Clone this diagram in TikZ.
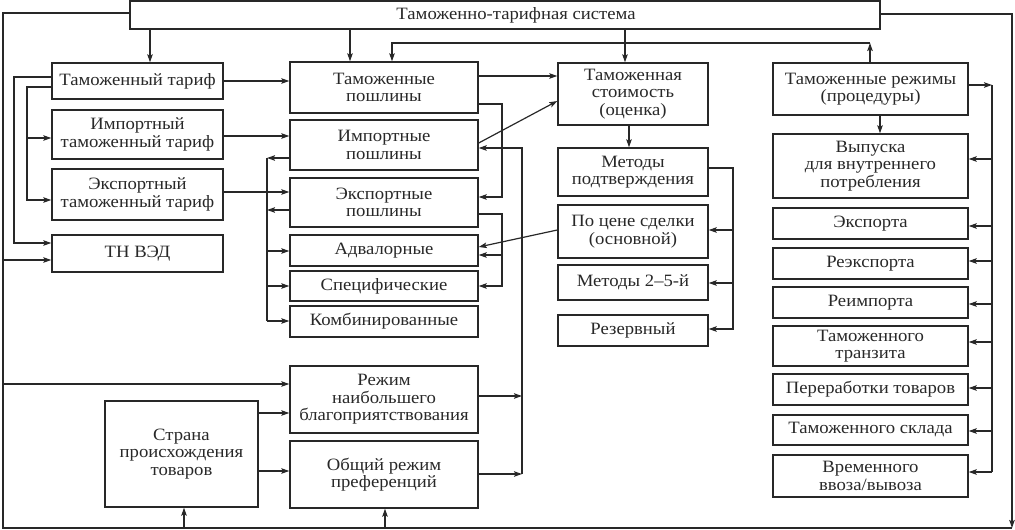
\documentclass[tikz,border=0pt]{standalone}
\usepackage{fontspec}
\setmainfont[FakeStretch=1.08]{Liberation Serif}
\usetikzlibrary{arrows.meta,calc}
\definecolor{ink}{RGB}{40,40,40}
\begin{document}
\begin{tikzpicture}[x=1pt,y=-1pt,
  box/.style={draw=ink,line width=1.4pt,align=center,inner sep=0pt,text=ink,
    font=\fontsize{17.3}{17.5}\selectfont},
  arr/.style={draw=ink,line width=1.2pt,-{Stealth[length=8pt,width=5.5pt,inset=1.5pt]}},
  ln/.style={draw=ink,line width=1.2pt}]
\useasboundingbox (0,0) rectangle (1015,530);
% nodes
\node[box,minimum width=750pt,minimum height=28pt] (top) at (505,15) {\hspace*{22pt}Таможенно-тарифная система};
\node[box,minimum width=171pt,minimum height=36pt] (tariff) at (137.5,81) {Таможенный тариф};
\node[box,minimum width=171pt,minimum height=49pt] (imptar) at (137.5,134.5) {Импортный\\таможенный тариф};
\node[box,minimum width=171pt,minimum height=51pt] (exptar) at (137.5,194.5) {Экспортный\\таможенный тариф};
\node[box,minimum width=171pt,minimum height=37pt] (tnved) at (137.5,253.5) {ТН ВЭД};
\node[box,minimum width=188pt,minimum height=51pt] (duties) at (384,87.5) {Таможенные\\пошлины};
\node[box,minimum width=188pt,minimum height=50pt] (impd) at (384,145) {Импортные\\пошлины};
\node[box,minimum width=188pt,minimum height=49pt] (expd) at (384,202.5) {Экспортные\\пошлины};
\node[box,minimum width=188pt,minimum height=31pt] (adval) at (384,250.5) {Адвалорные};
\node[box,minimum width=188pt,minimum height=30pt] (spec) at (384,286) {Специфические};
\node[box,minimum width=188pt,minimum height=31pt] (comb) at (384,321.5) {Комбинированные};
\node[box,minimum width=188pt,minimum height=67pt] (mfn) at (384,399.5) {Режим\\наибольшего\\благоприятствования};
\node[box,minimum width=188pt,minimum height=67pt] (gsp) at (384,474.5) {Общий режим\\преференций};
\node[box,minimum width=153pt,minimum height=106pt] (country) at (181.5,454) {Страна\\происхождения\\товаров};
\node[box,minimum width=150pt,minimum height=62pt] (value) at (633,94) {Таможенная\\стоимость\\(оценка)};
\node[box,minimum width=150pt,minimum height=48pt] (methods) at (633,172) {Методы\\подтверждения};
\node[box,minimum width=150pt,minimum height=53pt] (price) at (633,231.5) {По цене сделки\\(основной)};
\node[box,minimum width=150pt,minimum height=35pt] (m25) at (633,282.5) {Методы 2–5-й};
\node[box,minimum width=150pt,minimum height=31pt] (reserve) at (633,330.5) {Резервный};
\node[box,minimum width=195pt,minimum height=52pt] (regimes) at (870.5,89) {Таможенные режимы\\(процедуры)};
\node[box,minimum width=195pt,minimum height=64pt] (release) at (870.5,166) {Выпуска\\для внутреннего\\потребления};
\node[box,minimum width=195pt,minimum height=31pt] (export) at (870.5,223.5) {Экспорта};
\node[box,minimum width=195pt,minimum height=31pt] (reexport) at (870.5,263.5) {Реэкспорта};
\node[box,minimum width=195pt,minimum height=31pt] (reimport) at (870.5,302.5) {Реимпорта};
\node[box,minimum width=195pt,minimum height=40pt] (transit) at (870.5,346) {Таможенного\\транзита};
\node[box,minimum width=195pt,minimum height=31pt] (processing) at (870.5,389.5) {Переработки товаров};
\node[box,minimum width=195pt,minimum height=30pt] (warehouse) at (870.5,430) {Таможенного склада};
\node[box,minimum width=195pt,minimum height=42pt] (temp) at (870.5,476) {Временного\\ввоза/вывоза};
% frame
\coordinate (BL) at (3,528);
\coordinate (BR) at (1012,528);
\draw[ln] (top.west |- 0,13) -| (BL) -- (BR);
\draw[arr] (top.east |- 0,14) -| (BR);
% from top
\draw[arr] (top.south -| 150,0) -- (tariff.north -| 150,0);
\draw[arr] (top.south -| 350,0) -- (duties.north -| 350,0);
\draw[arr] (top.south -| 625,0) -- (value.north -| 625,0);
\draw[arr] (regimes.north -| 870,0) -- (870,43);
\draw[arr] (870,43) -- (392,43) -- (duties.north -| 392,0);
% left column
\draw[arr] (tariff.west |- 0,77) -- (14,77) -- (14,243) -- (tnved.west |- 0,243);
\draw[arr] (tariff.west |- 0,87) -- (27,87) -- (27,200) -- (exptar.west |- 0,200);
\draw[arr] (27,138) -- (imptar.west |- 0,138);
\draw[arr] (BL |- 0,260) -- (tnved.west |- 0,260);
\draw[arr] (BL |- 0,384) -- (mfn.west |- 0,384);
% tariffs to duties
\draw[arr] (tariff.east) -- (duties.west |- tariff.east);
\draw[arr] (imptar.east |- 0,136) -- (impd.west |- 0,136);
\draw[arr] (exptar.east |- 0,192) -- (expd.west |- 0,192);
% duty kinds
\draw[arr] (impd.west |- 0,158) -- (267,158);
\draw[arr] (expd.west |- 0,210) -- (267,210);
\draw[ln] (267,158) -- (267,321);
\draw[arr] (267,251) -- (adval.west |- 0,251);
\draw[arr] (267,286) -- (spec.west |- 0,286);
\draw[arr] (267,321) -- (comb.west |- 0,321);
% duties right side
\draw[arr] (duties.east |- 0,76) -- (value.west |- 0,76);
\draw[arr] (duties.east |- 0,104) -- (502,104) -- (502,197) -- (expd.east |- 0,197);
\draw[arr] (impd.east |- 0,143) -- (value.west |- 0,101);
\draw[arr] (mfn.east |- 0,396) -- (522,396);
\draw[arr] (gsp.east |- 0,474) -- (522,474);
\draw[arr] (522,474) -- (522,148) -- (impd.east |- 0,148);
\draw[arr] (expd.east |- 0,214) -- (502,214) -- (502,286) -- (spec.east |- 0,286);
\draw[arr] (502,255) -- (adval.east |- 0,255);
\draw[arr] (price.west |- 0,230) -- (adval.east |- 0,247);
% customs value
\draw[arr] (value.south -| 629,0) -- (methods.north -| 629,0);
\draw[arr] (methods.east |- 0,168) -- (733,168) -- (733,329) -- (reserve.east |- 0,329);
\draw[arr] (733,230) -- (price.east |- 0,230);
\draw[arr] (733,283) -- (m25.east |- 0,283);
% regimes
\draw[arr] (regimes.east |- 0,85) -- (992,85);
\draw[ln] (992,85) -- (992,472);
\draw[arr] (regimes.south -| 880,0) -- (release.north -| 880,0);
\draw[arr] (992,159) -- (release.east |- 0,159);
\draw[arr] (992,226) -- (export.east |- 0,226);
\draw[arr] (992,261) -- (reexport.east |- 0,261);
\draw[arr] (992,304) -- (reimport.east |- 0,304);
\draw[arr] (992,342) -- (transit.east |- 0,342);
\draw[arr] (992,388) -- (processing.east |- 0,388);
\draw[arr] (992,431) -- (warehouse.east |- 0,431);
\draw[arr] (992,472) -- (temp.east |- 0,472);
% country
\draw[arr] (country.east |- 0,413) -- (mfn.west |- 0,413);
\draw[arr] (country.east |- 0,471) -- (gsp.west |- 0,471);
\draw[arr] (BL -| 184,0) -- (country.south -| 184,0);
\draw[arr] (BL -| 385,0) -- (gsp.south -| 385,0);
\end{tikzpicture}
\end{document}
